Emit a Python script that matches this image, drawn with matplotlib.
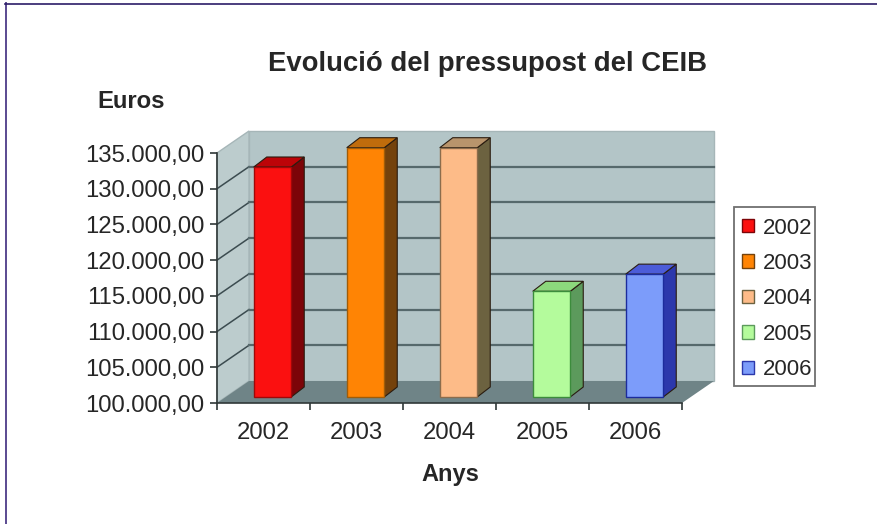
import matplotlib
matplotlib.use("Agg")
import matplotlib.pyplot as plt
from matplotlib.lines import Line2D
from matplotlib.patches import Polygon, Rectangle, Patch

plt.rcParams['font.family'] = ['Liberation Sans', 'DejaVu Sans']

years = ['2002', '2003', '2004', '2005', '2006']
values = [132200, 134900, 134900, 114800, 117200]
y_ticks = [100000, 105000, 110000, 115000, 120000, 125000, 130000, 135000]
y_labels = ['100.000,00', '105.000,00', '110.000,00', '115.000,00',
            '120.000,00', '125.000,00', '130.000,00', '135.000,00']
front_cols = ['#fb1010', '#ff8404', '#fdbb88', '#b4fb9c', '#7c9cfa']
side_cols = ['#7c0408', '#74420c', '#6c6240', '#5c9a5c', '#2c38ac']
top_cols = ['#bc0408', '#c06c0c', '#b8946c', '#8cd87c', '#4c5cd8']
edge_cols = ['#a00808', '#a05c08', '#8c6c4c', '#3c8c3c', '#1c2c9c']

W, H = 877, 524
TXT = '#262626'
fig = plt.figure(figsize=(W / 100, H / 100), dpi=100)
# front plane of the fake 3d box, in pixels of the picture
ax = fig.add_axes([217 / W, (H - 403) / H, 465 / W, 250 / H])
ax.set_xlim(-0.5, 4.5)
ax.set_ylim(100000, 135000)
ax.patch.set_visible(False)

# one pixel in data units
px = 5 / 465
py = 35000 / 250
wall_dx, wall_dy = 32 * px, 22 * py
x0, x1 = -0.5, 4.5
y0, y1 = y_ticks[0], y_ticks[-1]


def poly(pts, fc, ec='none', lw=0, z=1):
    ax.add_patch(Polygon(pts, closed=True, fc=fc, ec=ec, lw=lw, zorder=z, clip_on=False))


# back wall, side wall, floor
poly([(x0 + wall_dx, y0 + wall_dy), (x1 + wall_dx, y0 + wall_dy),
      (x1 + wall_dx, y1 + wall_dy), (x0 + wall_dx, y1 + wall_dy)], '#b3c5c7', '#a6b6b8', 1)
poly([(x0, y0), (x0 + wall_dx, y0 + wall_dy), (x0 + wall_dx, y1 + wall_dy), (x0, y1)],
     '#bccccd', '#a6b6b8', 1)
poly([(x0, y0), (x1, y0), (x1 + wall_dx, y0 + wall_dy), (x0 + wall_dx, y0 + wall_dy)],
     '#6f8487', z=1.5)

# no grid line at the very top and bottom, the wall edge is light there
for t in y_ticks[1:-1]:
    ax.plot([x0, x0 + wall_dx], [t, t + wall_dy], color='#3c4c50', lw=1.1, zorder=2, clip_on=False)
    ax.plot([x0 + wall_dx, x1 + wall_dx], [t + wall_dy, t + wall_dy], color='#56696c', lw=1.6,
            zorder=2, clip_on=False)

# bars, front face then side and top
bar_w = 37.5 * px
off_x, off_y = 9 * px, 6 * py
bar_dx, bar_dy = 13 * px, 10 * py
for i, v in enumerate(values):
    left = i - bar_w / 2 + off_x
    right = left + bar_w
    base = y0 + off_y
    top = v + off_y
    poly([(right, base), (right + bar_dx, base + bar_dy), (right + bar_dx, top + bar_dy), (right, top)],
         side_cols[i], '#2a1c10', 0.8, 3)
    poly([(left, top), (right, top), (right + bar_dx, top + bar_dy), (left + bar_dx, top + bar_dy)],
         top_cols[i], '#2a1c10', 0.8, 3)
    ax.bar(i + off_x, v - y0, bottom=base, width=bar_w, color=front_cols[i], edgecolor=edge_cols[i],
           linewidth=1, zorder=4, clip_on=False)

ax.set_xlim(-0.5, 4.5)
ax.set_ylim(100000, 135000)
for s in ['top', 'right']:
    ax.spines[s].set_visible(False)
for s in ['left', 'bottom']:
    ax.spines[s].set_color('#303838')
    ax.spines[s].set_linewidth(1.2)
    ax.spines[s].set_zorder(5)

ax.set_yticks(y_ticks)
ax.set_yticklabels(y_labels, fontsize=17.2, color=TXT)
ax.set_xticks(range(len(years)))
ax.set_xticklabels(years, fontsize=17.2, color=TXT)
ax.tick_params(axis='x', length=0, pad=13.5)
ax.tick_params(axis='y', length=5, width=1.2, color='#303838', pad=4)
# x ticks sit between the categories
ax.set_xticks([-0.5, 0.5, 1.5, 2.5, 3.5, 4.5], minor=True)
ax.tick_params(axis='x', which='minor', length=5, width=1.2, color='#303838')

fig.text(488 / W, 1 - 64 / H, 'Evolució del pressupost del CEIB', fontsize=19.8, fontweight='bold',
         ha='center', va='center', color=TXT)
fig.text(131 / W, 1 - 102 / H, 'Euros', fontsize=17.2, fontweight='bold', ha='center', va='center',
         color=TXT)
fig.text(450 / W, 1 - 475 / H, 'Anys', fontsize=17, fontweight='bold', ha='center', va='center',
         color=TXT)

# legend box is drawn apart so the text can run close to its right side
fig.add_artist(Rectangle((734 / W, 1 - 386 / H), 81 / W, 179 / H, transform=fig.transFigure,
                         fc='white', ec='#707070', lw=1.3))
handles = [Patch(fc=front_cols[i], ec=side_cols[i], lw=1, label=years[i]) for i in range(len(years))]
fig.legend(handles=handles, loc='center left', bbox_to_anchor=(742 / W, 1 - 299 / H),
           fontsize=16, frameon=False, handlelength=0.55, handleheight=0.55, handletextpad=0.38,
           labelspacing=0.65, borderpad=0, borderaxespad=0, labelcolor=TXT)

# outer frame of the picture, only top and left
fig.add_artist(Line2D([5.5 / W, 5.5 / W], [0, 1 - 3 / H], transform=fig.transFigure, color='#5a4a90', lw=1.4))
fig.add_artist(Line2D([5 / W, 1], [1 - 3.5 / H, 1 - 3.5 / H], transform=fig.transFigure, color='#2c1c68', lw=1.2))

fig.savefig('out.png', dpi=100)
